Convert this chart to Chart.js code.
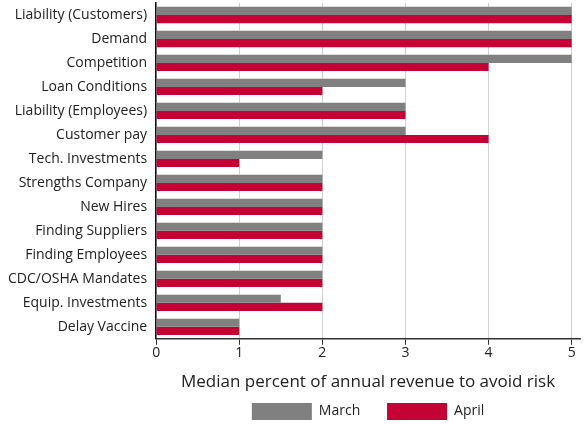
<!DOCTYPE html>
<html><head><meta charset="utf-8">
<script src="https://cdn.jsdelivr.net/npm/chart.js@4"></script>
<style>html,body{margin:0;padding:0;background:#fff}#wrap{width:584px;height:424px}</style>
</head><body><div id="wrap"><canvas id="c" width="584" height="424"></canvas></div>
<script>
const categories = ["Liability (Customers)","Demand","Competition","Loan Conditions","Liability (Employees)","Customer pay","Tech. Investments","Strengths Company","New Hires","Finding Suppliers","Finding Employees","CDC/OSHA Mandates","Equip. Investments","Delay Vaccine"];
const march = [5,5,5,3,3,3,2,2,2,2,2,2,1.5,1];
const april = [5,5,4,2,3,4,1,2,2,2,2,2,2,1];
const xTicks = [0,1,2,3,4,5];
const FONT = "'Open Sans', sans-serif";
new Chart(document.getElementById('c'), {
  type: 'bar',
  data: { labels: categories, datasets: [
    { label: 'March', data: march, backgroundColor: '#808080', categoryPercentage: 0.68, barPercentage: 1 },
    { label: 'April', data: april, backgroundColor: '#c40234', categoryPercentage: 0.68, barPercentage: 1 }
  ]},
  options: {
    indexAxis: 'y', responsive: false, animation: false,
    layout: { padding: { top: 3, right: 4, left: -1, bottom: -6 } },
    plugins: {
      legend: { position: 'bottom', fullSize: false, labels: {
        boxWidth: 60, boxHeight: 17, padding: 5, color: '#222', font: { family: FONT, size: 14 },
        generateLabels: chart => {
          const items = Chart.defaults.plugins.legend.labels.generateLabels(chart);
          items.forEach((it, i) => { if (i < items.length - 1) it.text = it.text + '\u00a0\u00a0\u00a0\u00a0\u00a0\u00a0'; });
          return items;
        } } },
      tooltip: { enabled: false }
    },
    scales: {
      x: {
        min: 0, max: 5.1,
        afterBuildTicks: s => { s.ticks = xTicks.map(v => ({ value: v })); },
        grid: { color: '#d0d0d0', tickColor: '#333', tickLength: 6, drawTicks: true },
        border: { color: '#333', width: 1.5 },
        ticks: { color: '#222', font: { family: FONT, size: 14 }, padding: 0 },
        title: { display: true, text: 'Median percent of annual revenue to avoid risk', color: '#222', font: { family: FONT, size: 17 }, padding: { top: 10, bottom: 6 } }
      },
      y: {
        afterFit: s => { s.paddingTop = 0; s.paddingBottom = 0; },
        grid: { display: false, drawTicks: false },
        border: { color: '#111', width: 1.5 },
        ticks: { color: '#222', font: { family: FONT, size: 14 }, padding: 9 }
      }
    }
  }
});
</script></body></html>
